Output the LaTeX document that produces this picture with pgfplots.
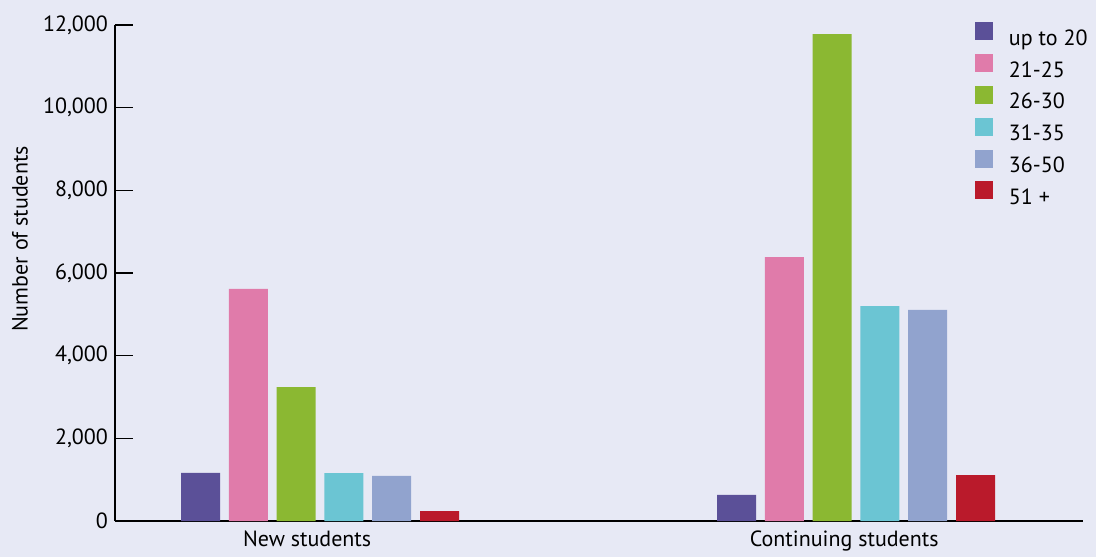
\documentclass[border=0pt]{standalone}
\usepackage{pgfplots}
\pgfplotsset{compat=1.18}
\usepackage{fontspec}
\setmainfont{PT Sans}

\definecolor{bgc}{HTML}{E7E9F5}
\definecolor{c1}{HTML}{5B5098}
\definecolor{c2}{HTML}{E07BAA}
\definecolor{c3}{HTML}{8BB832}
\definecolor{c4}{HTML}{6BC5D3}
\definecolor{c5}{HTML}{91A3CE}
\definecolor{c6}{HTML}{BA1A2B}

\begin{document}
\begin{tikzpicture}
% background, 1 px of the reference = 0.5pt
\fill[bgc] (-57.5pt,-18pt) rectangle (490.5pt,260.5pt);
\begin{axis}[
    at={(0pt,0pt)}, anchor=south west,
    scale only axis,
    width=484pt, height=248pt,
    font=\fontsize{11}{13}\selectfont,
    ybar=4.4pt, bar width=19.5pt,
    xmin=-0.3825, xmax=1.4235,
    ymin=0, ymax=12000,
    axis x line*=bottom, axis y line*=left,
    axis line style={line width=1pt, -},
    xtick={-0.024,0.978},
    xticklabels={New students, Continuing students},
    xticklabel style={yshift=-1.5pt},
    major x tick style={draw=none},
    extra x ticks={0.457,1.4235},
    extra x tick labels={},
    extra x tick style={major tick length=5.5pt, tick align=inside, tick style={line width=0.8pt, black}},
    ytick={0,2000,...,12000},
    major tick length=9pt,
    tick align=inside,
    y tick style={line width=0.8pt, black},
    scaled y ticks=false,
    /pgf/number format/assume math mode=true,
    /pgf/number format/1000 sep={,},
    legend style={draw=none, fill=none, inner sep=0pt, anchor=north west,
        at={(0.888,1.006)}, row sep=1.5pt, column sep=8pt,
        nodes={inner sep=0pt, text height=9pt, text depth=3pt},
        font=\fontsize{11}{13}\selectfont},
    legend cell align=left,
    legend image code/.code={\fill[#1] (0pt,-0.6pt) rectangle (9pt,8.4pt);},
    clip=false,
]
\addplot[fill=c1, draw=none] coordinates {(0,1165) (1,630)};
\addplot[fill=c2, draw=none] coordinates {(0,5615) (1,6385)};
\addplot[fill=c3, draw=none] coordinates {(0,3240) (1,11780)};
\addplot[fill=c4, draw=none] coordinates {(0,1160) (1,5200)};
\addplot[fill=c5, draw=none] coordinates {(0,1090) (1,5105)};
\addplot[fill=c6, draw=none] coordinates {(0,240) (1,1110)};
\legend{up to 20, 21-25, 26-30, 31-35, 36-50, 51 +}
\end{axis}
\node[rotate=90, font=\fontsize{11}{13}\selectfont] at (-47.5pt,141pt) {Number of students};
\end{tikzpicture}
\end{document}
